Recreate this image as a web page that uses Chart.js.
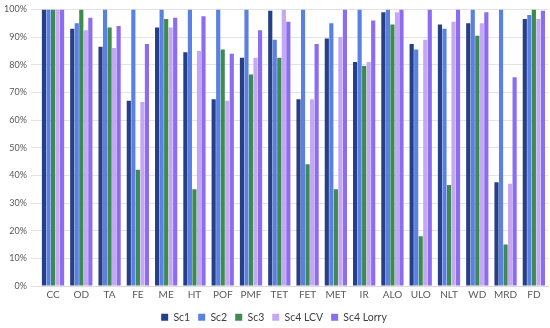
<!DOCTYPE html>
<html>
<head>
<meta charset="utf-8">
<script src="https://cdn.jsdelivr.net/npm/chart.js@4.4.0/dist/chart.umd.min.js"></script>
<style>
  html, body { margin: 0; padding: 0; background: #fff; }
  #wrap { width: 550px; height: 328px; position: relative; }
</style>
</head>
<body>
<div id="wrap"><canvas id="scenarioChart"></canvas></div>
<script>
// Categories (x axis)
const categories = ['CC', 'OD', 'TA', 'FE', 'ME', 'HT', 'POF', 'PMF', 'TET', 'FET', 'MET', 'IR', 'ALO', 'ULO', 'NLT', 'WD', 'MRD', 'FD'];

// Series values, in percent
const sc1      = [100, 93, 86.5, 67, 93.5, 84.5, 67.5, 82.5, 99.5, 67.5, 89.5, 81, 99, 87.5, 94.5, 95, 37.5, 96.5];
const sc2      = [100, 95, 100, 100, 100, 100, 100, 100, 89, 100, 95, 100, 100, 85.5, 93, 100, 100, 98];
const sc3      = [100, 100, 93.5, 42, 96.5, 35, 85.5, 76.5, 82.5, 44, 35, 79.5, 94.5, 18, 36.5, 90.5, 15, 100];
const sc4Lcv   = [100, 92.5, 86, 66.5, 93.5, 85, 67, 82.5, 100, 67.5, 90, 81, 99, 89, 95.5, 95, 37, 96.5];
const sc4Lorry = [100, 97, 94, 87.5, 97, 97.5, 84, 92.5, 95.5, 87.5, 100, 96, 100, 100, 100, 99, 75.5, 99.5];

// Y tick labels
const yTicks = [0, 10, 20, 30, 40, 50, 60, 70, 80, 90, 100];

const seriesNames = ['Sc1', 'Sc2', 'Sc3', 'Sc4 LCV', 'Sc4 Lorry'];
const seriesData = [sc1, sc2, sc3, sc4Lcv, sc4Lorry];
const seriesColors = ['#263f86', '#5a80e4', '#3d8a52', '#c4a8f2', '#8c6cf0'];

// Keep the legend row compact, like the original
const compactLegend = {
    id: 'compactLegend',
    beforeInit(chart) {
        const fit = chart.legend.fit;
        chart.legend.fit = function () {
            fit.call(this);
            this.height = 24;
        };
    }
};

const ctx = document.getElementById('scenarioChart');

new Chart(ctx, {
    type: 'bar',
    data: {
        labels: categories,
        datasets: seriesNames.map((name, i) => ({
            label: name,
            data: seriesData[i],
            backgroundColor: seriesColors[i],
            borderWidth: 0,
            categoryPercentage: 0.8,
            barPercentage: 0.92
        }))
    },
    options: {
        responsive: true,
        maintainAspectRatio: false,
        animation: false,
        layout: {
            padding: { left: 0, right: 2, top: 0, bottom: 0 }
        },
        plugins: {
            legend: {
                position: 'bottom',
                labels: {
                    boxWidth: 7,
                    boxHeight: 7,
                    padding: 8,
                    color: '#404040',
                    font: { family: 'Lato', size: 10.5 }
                }
            },
            tooltip: { enabled: false }
        },
        scales: {
            x: {
                grid: { display: false, drawTicks: false },
                border: { color: '#d9d9d9' },
                ticks: {
                    color: '#595959',
                    padding: 3,
                    maxRotation: 0,
                    autoSkip: false,
                    font: { family: 'Lato', size: 10 }
                }
            },
            y: {
                min: 0,
                max: 100,
                afterBuildTicks: (axis) => {
                    axis.ticks = yTicks.map(v => ({ value: v }));
                },
                grid: { color: '#e3e3e3' },
                border: { display: false },
                ticks: {
                    color: '#595959',
                    padding: 4,
                    font: { family: 'Lato', size: 9 },
                    callback: (value) => value + '%'
                }
            }
        }
    },
    plugins: [compactLegend]
});
</script>
</body>
</html>
